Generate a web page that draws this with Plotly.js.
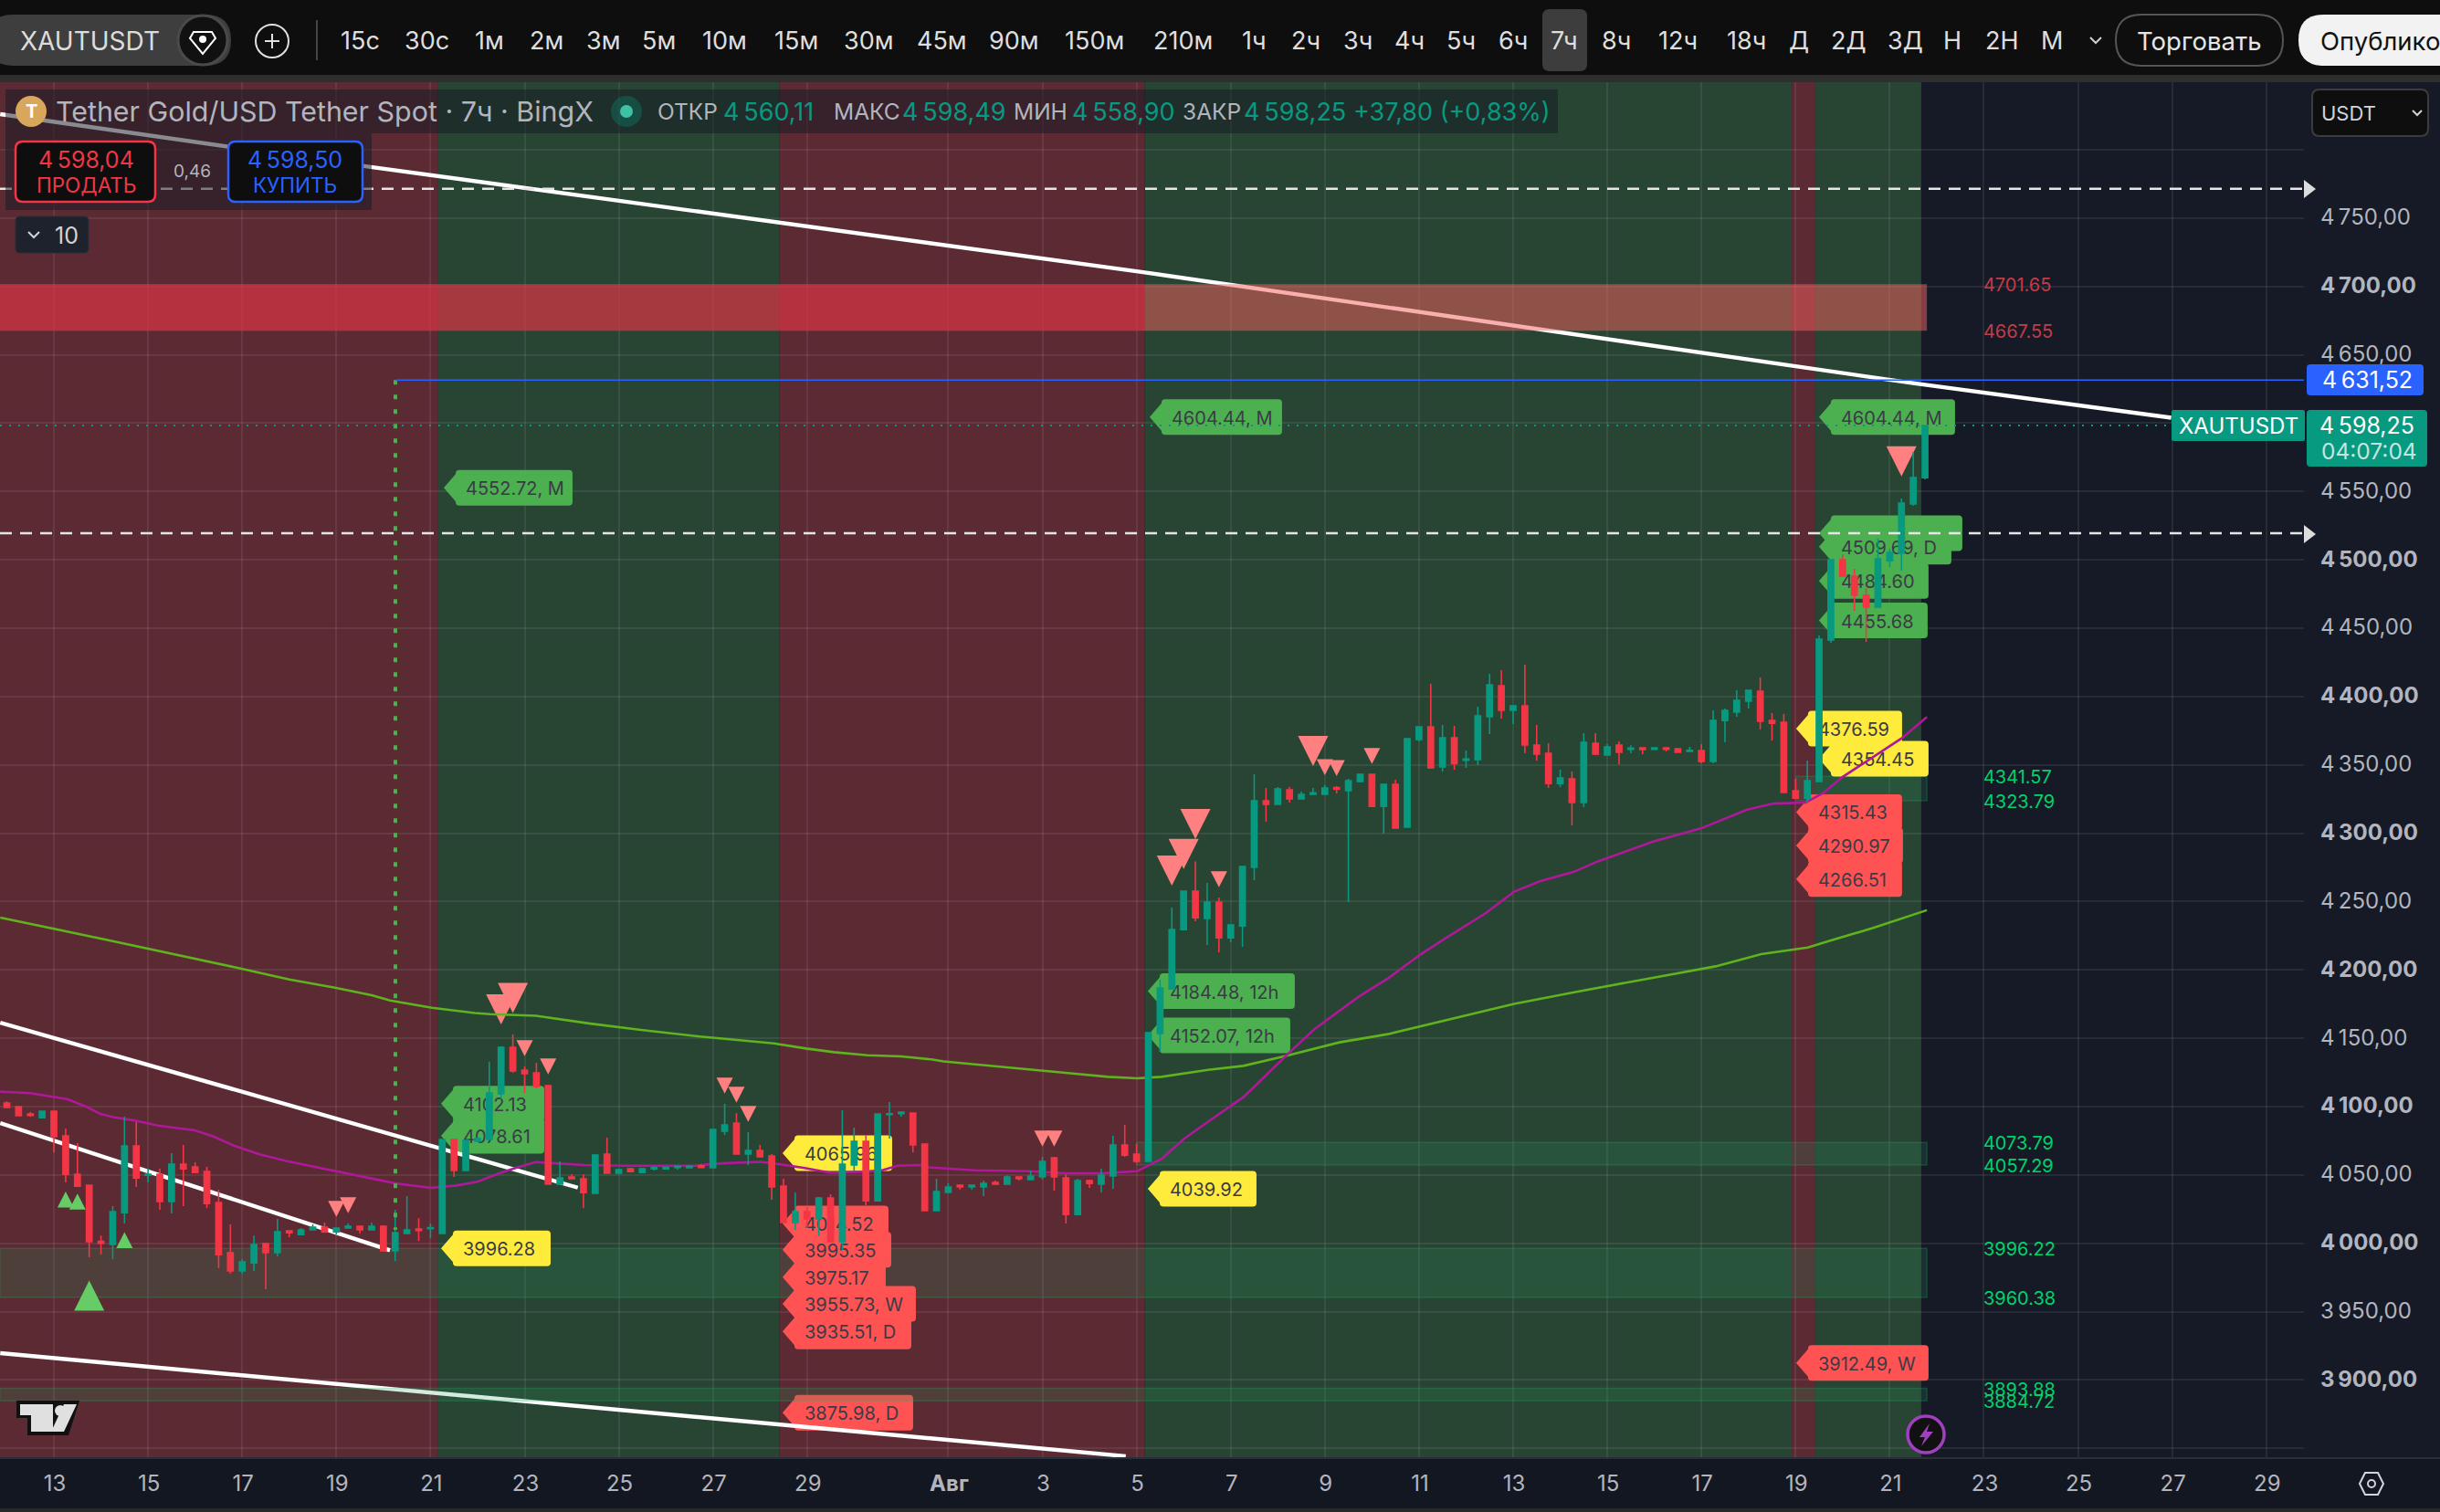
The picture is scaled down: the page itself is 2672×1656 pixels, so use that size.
<!DOCTYPE html>
<html><head><meta charset="utf-8">
<script src="https://cdn.plot.ly/plotly-3.0.1.min.js"></script>
<style>html,body{margin:0;padding:0;background:#0e0e0e;overflow:hidden}#c{width:2672px;height:1656px}</style>
</head><body><div id="c"></div>
<script>
// ---------- DATA ----------
const barOpen=[
4102.6,4100.0,4094.6,4091.9,4096.6,4078.6,4050.5,4042.5,4001.5,3999.1,
4022.4,4071.2,4049.8,4050.5,4030.5,4057.9,4055.9,4052.5,4029.8,3993.1,
3979.7,3985.7,3999.7,3993.1,4009.1,4006.4,4009.8,4011.8,4008.4,4011.1,
4012.4,4009.8,4012.4,3994.4,4007.1,4010.4,4010.6,4007.1,4075.9,4053.2,
4074.6,4075.9,4109.3,4143.4,4126.7,4124.7,4115.3,4043.2,4048.5,4047.2,
4036.5,4065.2,4051.2,4054.5,4051.8,4054.5,4054.5,4055.4,4055.2,4056.7,
4055.2,4081.9,4087.9,4065.2,4067.9,4063.9,4041.8,4015.1,4023.1,4017.8,
4033.1,4001.1,4057.2,4074.6,4031.1,4094.2,4094.8,4095.3,4072.6,4023.8,
4037.2,4042.5,4041.2,4041.2,4044.5,4043.2,4048.5,4046.5,4048.5,4062.5,
4047.8,4021.1,4045.8,4043.2,4049.2,4071.9,4065.2,4059.9,4153.4,4186.1,
4229.5,4257.6,4237.6,4249.6,4223.5,4232.2,4275.0,4323.7,4321.1,4331.8,
4325.1,4328.4,4328.4,4333.5,4331.1,4337.8,4343.1,4319.7,4335.8,4304.4,
4368.5,4377.9,4348.5,4369.8,4353.4,4353.8,4385.2,4407.9,4389.9,4393.2,
4364.5,4358.5,4336.4,4339.8,4322.4,4365.8,4357.2,4364.5,4361.4,4362.5,
4361.4,4362.5,4361.8,4359.8,4360.5,4352.5,4382.5,4388.6,4396.6,4403.9,
4382.5,4381.2,4331.1,4325.7,4337.8,4441.3,4500.1,4488.1,4474.1,4465.4,
4499.4,4504.8,4540.9,4560.11];
const barClose=[
4099.3,4093.3,4093.5,4096.6,4077.9,4050.5,4041.8,4001.1,4000.0,4023.1,
4071.2,4047.8,4050.5,4030.5,4057.9,4054.5,4051.8,4029.1,3991.7,3979.7,
3986.4,3999.1,3993.1,4008.4,4007.7,4009.8,4011.8,4008.4,4011.1,4012.4,
4009.8,4012.4,3994.4,4007.7,4009.8,4009.3,4011.5,4075.9,4053.2,4075.2,
4076.8,4110.0,4143.4,4126.0,4124.0,4114.6,4043.2,4047.8,4047.2,4037.1,
4064.5,4051.2,4053.9,4052.5,4054.5,4055.4,4055.6,4056.3,4056.3,4055.4,
4083.2,4086.6,4065.2,4067.9,4063.2,4041.2,4015.1,4023.1,4017.8,4033.1,
4001.1,4057.9,4074.6,4031.1,4094.6,4094.8,4095.9,4071.9,4023.8,4037.8,
4041.2,4041.2,4042.5,4043.8,4043.2,4048.5,4047.2,4049.2,4059.9,4048.5,
4021.1,4045.8,4043.8,4049.9,4071.9,4064.5,4059.9,4154.1,4186.8,4229.6,
4257.6,4238.2,4249.6,4223.5,4232.9,4275.6,4323.7,4321.1,4332.4,4325.1,
4328.4,4329.5,4333.1,4332.4,4338.4,4343.1,4319.7,4335.8,4303.7,4369.2,
4377.9,4347.8,4369.8,4351.1,4354.3,4385.9,4408.6,4389.9,4393.2,4364.5,
4357.8,4336.4,4340.4,4322.4,4366.5,4357.8,4363.2,4359.2,4362.3,4361.2,
4362.5,4361.4,4359.2,4360.7,4352.5,4382.5,4389.9,4397.2,4404.6,4381.9,
4380.5,4329.8,4325.7,4338.4,4442.0,4500.1,4488.1,4474.1,4465.4,4500.8,
4505.5,4541.5,4560.2,4598.25];
const barHigh=[
4103.9,4100.0,4095.9,4096.6,4096.6,4083.9,4073.2,4042.5,4005.7,4027.1,
4092.6,4088.6,4054.5,4054.5,4065.9,4071.9,4059.2,4055.9,4039.2,4013.8,
3988.4,4005.7,4000.4,4017.8,4009.1,4011.1,4013.8,4015.1,4011.1,4014.4,
4012.4,4015.1,4013.1,4024.5,4034.5,4018.4,4014.4,4075.9,4075.9,4075.2,
4076.8,4132.7,4144.0,4152.7,4129.3,4132.0,4116.0,4059.9,4050.5,4050.5,
4065.2,4077.2,4054.5,4055.2,4054.5,4056.5,4055.6,4056.3,4056.3,4057.9,
4083.2,4102.0,4095.3,4081.2,4071.9,4065.2,4047.2,4037.1,4026.5,4033.8,
4035.8,4097.3,4084.6,4079.2,4094.6,4103.3,4095.9,4095.3,4072.6,4047.2,
4043.8,4042.5,4042.5,4045.8,4045.8,4049.8,4048.5,4053.2,4063.2,4063.2,
4050.5,4047.2,4046.5,4054.5,4078.6,4086.6,4072.6,4154.1,4192.8,4245.6,
4257.6,4279.4,4263.6,4252.9,4232.9,4275.6,4343.1,4333.1,4333.8,4333.8,
4330.4,4333.1,4335.1,4334.4,4339.8,4343.1,4343.1,4335.8,4339.1,4369.2,
4377.9,4409.3,4379.2,4378.5,4360.5,4392.6,4416.6,4419.3,4393.2,4423.3,
4379.2,4365.8,4346.5,4345.1,4373.2,4373.2,4365.2,4367.2,4364.3,4362.5,
4362.5,4362.5,4362.5,4363.2,4365.2,4389.9,4391.2,4404.6,4404.6,4413.9,
4387.9,4387.2,4339.8,4353.1,4444.7,4500.1,4504.1,4493.4,4479.4,4515.5,
4508.1,4544.9,4578.9,4598.49];
const barLow=[
4099.3,4093.3,4092.4,4091.9,4066.5,4044.5,4041.8,3989.7,3991.7,3988.4,
4014.4,4041.2,4044.5,4024.5,4021.8,4027.1,4051.2,4025.8,3981.7,3977.7,
3977.7,3979.7,3966.3,3990.4,4004.4,4006.4,4009.8,4007.7,4006.4,4011.1,
4007.1,4009.8,3993.7,3987.0,4007.1,4001.7,4003.7,4007.1,4048.5,4053.2,
4074.6,4075.9,4105.3,4124.7,4110.0,4113.3,4043.2,4043.2,4047.2,4025.8,
4036.5,4051.2,4051.2,4051.8,4051.2,4053.2,4054.5,4053.9,4055.2,4055.4,
4055.2,4079.2,4065.2,4057.2,4062.5,4031.8,4015.1,4009.8,4011.1,4005.1,
4001.1,3995.1,4052.5,4027.8,4031.1,4076.6,4092.6,4066.5,4023.8,4023.8,
4037.2,4039.2,4039.2,4034.5,4043.2,4043.2,4045.8,4046.5,4046.5,4038.5,
4014.4,4021.1,4040.5,4037.2,4039.8,4063.2,4058.5,4059.9,4140.0,4186.1,
4229.5,4235.6,4218.2,4212.8,4220.2,4216.9,4265.6,4308.4,4321.1,4322.4,
4325.1,4328.4,4328.4,4329.1,4249.6,4337.1,4319.7,4299.7,4303.7,4304.4,
4367.2,4347.1,4345.1,4346.5,4347.8,4349.8,4372.5,4383.9,4379.9,4358.5,
4353.1,4333.1,4333.8,4305.7,4319.1,4357.2,4357.2,4350.5,4358.5,4357.8,
4361.4,4359.8,4359.2,4359.8,4351.1,4351.1,4366.5,4385.2,4391.2,4375.9,
4367.8,4329.8,4325.1,4321.7,4337.8,4439.3,4488.1,4462.7,4440.0,4465.4,
4494.8,4492.1,4539.5,4558.90];

const magentaDays=[11.86,12.50,13.28,13.67,13.99,14.28,14.70,15.21,15.99,16.38,16.84,17.35,17.93,18.97,19.75,20.26,21.01,21.55,22.00,22.46,22.85,23.24,23.75,24.27,25.18,26.60,27.18,28.01,28.40,28.92,29.50,30.22,30.61,30.92,31.39,31.58,32.55,33.71,34.49,35.27,36.01,36.53,37.01,37.52,38.27,38.76,39.27,39.79,40.72,41.34,42.04,42.54,43.22,43.42,44.02,44.58,45.28,45.80,46.97,47.99,48.97,49.53,50.21,50.59,50.98,52.26,52.79];
const magentaVals=[4110.9,4109.8,4105.5,4100.2,4094.6,4092.2,4089.9,4086.1,4082.6,4078.3,4071.2,4065.2,4060.3,4053.0,4047.8,4043.8,4040.5,4042.3,4045.0,4051.2,4055.6,4059.4,4058.3,4057.2,4056.7,4056.7,4058.5,4059.6,4057.9,4055.2,4051.6,4052.3,4053.6,4056.7,4057.2,4055.6,4053.4,4052.7,4051.2,4051.2,4052.7,4061.7,4076.4,4089.0,4106.9,4123.6,4140.3,4157.0,4180.4,4193.7,4211.5,4222.6,4237.1,4241.6,4257.2,4265.0,4271.6,4279.4,4293.9,4303.5,4317.3,4321.7,4322.4,4329.5,4340.7,4369.6,4385.0];
const limeDays=[11.86,14.18,16.90,18.00,18.97,19.75,20.14,21.03,21.94,22.27,23.24,24.40,25.43,26.73,28.29,28.98,29.57,30.28,31.00,31.64,31.90,33.19,34.49,35.39,36.01,36.53,37.52,38.27,39.21,40.31,41.34,44.02,45.30,46.99,48.30,49.27,50.26,50.75,51.62,52.79];
const limeVals=[4238.3,4221.6,4201.5,4193.0,4187.0,4181.5,4177.7,4172.3,4168.5,4167.6,4166.5,4160.7,4156.3,4151.2,4146.3,4142.5,4139.8,4137.6,4136.7,4134.5,4133.1,4128.7,4124.7,4121.8,4120.7,4121.8,4126.9,4129.8,4137.4,4147.0,4153.0,4175.2,4183.7,4194.4,4202.6,4211.5,4216.4,4221.5,4230.4,4243.7];

const trend1Days=[11.86,19.62,36.14,52.53,57.98], trend1Vals=[4826.1,4788.0,4710.5,4629.1,4604.0];
const trend2Days=[11.86,21.17,24.13], trend2Vals=[4161.4,4070.1,4040.7];
const trend3Days=[11.86,20.14], trend3Vals=[4087.9,3994.8];
const trend4Days=[11.86,25.43,35.77], trend4Vals=[3919.6,3876.4,3844.2];

const regimeStart=[11.85,21.15,28.41,36.17,49.92,50.42];
const regimeEnd  =[21.15,28.41,36.17,49.92,50.42,52.67];
const regimeKind =['bear','bull','bear','bull','bear','bull'];

const zoneTop =[4341.57,4073.79,3996.22,3893.88];
const zoneBot =[4323.79,4057.29,3960.38,3884.72];
const zoneFrom=[50.01,36.00,11.85,11.85];
const zoneEnd=52.79;
const supplyTop=4701.65, supplyBot=4667.55, supplyCoreEnd=36.17;

const tagText =['4552.72, M','4604.44, M','4604.44, M','4102.13','4078.61','4184.48, 12h','4152.07, 12h','','4509.69, D','4484.60','4455.68',
 '3996.28','4065.96','4039.92','4376.59','4354.45',
 '4014.52','3995.35','3975.17','3955.73, W','3935.51, D','3875.98, D','4315.43','4290.97','4266.51','3912.49, W'];
const tagValue=[4552.72,4604.44,4604.44,4102.13,4078.61,4184.48,4152.07,4519.5,4509.69,4484.60,4455.68,
 3996.28,4065.96,4039.92,4376.59,4354.45,
 4014.52,3995.35,3975.17,3955.73,3935.51,3875.98,4315.43,4290.97,4266.51,3912.49];
const tagKind =['g','g','g','g','g','g','g','g','g','g','g','y','y','y','y','y','r','r','r','r','r','r','r','r','r','r'];

const signalBar =[8,6,7,11,29,30,43,44,45,47,62,63,64,89,90,100,101,102,104,112,113,114,117,162];
const signalVal =[3972.8,4037.8,4036.3,4008.2,4019.3,4022.0,4160.1,4168.5,4136.9,4123.6,4109.5,4102.8,4088.8,4070.8,4070.8,4261.6,4273.9,4295.7,4260.5,4349.1,4342.5,4341.8,4350.7,4561.1];
const signalDir =['up','up','up','up','down','down','down','down','down','down','down','down','down','down','down','down','down','down','down','down','down','down','down','down'];
const signalBig =[1,0,0,0,0,0,1,1,0,0,0,0,0,0,0,1,1,1,0,1,0,0,0,1];

const levelGreenVals=[4341.57,4323.79,4073.79,4057.29,3996.22,3960.38,3893.88,3884.72];
const levelRedVals=[4701.65,4667.55];

const xTickDays=[13,15,17,19,21,23,25,27,29,32,34,36,38,40,42,44,46,48,50,52,54,56,58,60];
const xTickText=['13','15','17','19','21','23','25','27','29','<b>Авг</b>','3','5','7','9','11','13','15','17','19','21','23','25','27','29'];
const yTickVals=[3850,3900,3950,4000,4050,4100,4150,4200,4250,4300,4350,4400,4450,4500,4550,4600,4650,4700,4750,4800];
const T='\u2009';
const yTickText=['','<b>3'+T+'900,00</b>','3'+T+'950,00','<b>4'+T+'000,00</b>','4'+T+'050,00','<b>4'+T+'100,00</b>','4'+T+'150,00','<b>4'+T+'200,00</b>','4'+T+'250,00','<b>4'+T+'300,00</b>','4'+T+'350,00','<b>4'+T+'400,00</b>','4'+T+'450,00','<b>4'+T+'500,00</b>','4'+T+'550,00','','4'+T+'650,00','<b>4'+T+'700,00</b>','4'+T+'750,00',''];

const tfLabels=['15с','30с','1м','2м','3м','5м','10м','15м','30м','45м','90м','150м','210м','1ч','2ч','3ч','4ч','5ч','6ч','7ч','8ч','12ч','18ч','Д','2Д','3Д','Н','2Н','М'];

// ---------- GEOMETRY ----------
const W=2672,H=1656,L=0,R=2523,TOP=90,BOT=1597;
const FONT='Inter, Roboto, sans-serif';
const xRange=[11.855,60.80],yRange=[3842.8,4849.5];
const pxDay=p=>11.855+p/51.55;
const X=p=>(p-L)/(R-L), Y=p=>(BOT-p)/(BOT-TOP);
const barDay=n=>12+(n-1)*0.25;
const barDays=barOpen.map((_,i)=>barDay(i+1));
const textNudge=2; // value units: text baseline correction

const tfCenters=[394,467,536,598,660,721,793,872,951,1031,1110,1198,1295,1373,1430,1487,1543,1600,1657,1713,1770,1837,1912,1970,2024,2086,2138,2192,2247];
const tagTipPx=[486,1259,1992,483,483,1257,1257,1992,1992,1992,1992, 483,857,1257,1967,1992, 857,857,857,857,857,857,1967,1967,1967,1967];
const tagRightPx=[627,1404,2141,596,596,1418,1413,2149,2137,2112,2111, 603,977,1376,2083,2112, 973,976,970,1003,998,1000,2083,2084,2083,2112];
const tagFill={g:'#4CAF50',y:'#FFEB3B',r:'#FF5252'};

const shapes=[],ann=[];
// regime bands
regimeStart.forEach((s,i)=>shapes.push({type:'rect',layer:'below',xref:'x',yref:'paper',x0:s,x1:regimeEnd[i],y0:0,y1:1,line:{width:0},fillcolor:regimeKind[i]==='bear'?'#5b2a33':'#284433'}));
// zones
zoneTop.forEach((t,i)=>{shapes.push({type:'rect',layer:i===3?'above':'between',xref:'x',yref:'y',x0:zoneFrom[i],x1:zoneEnd,y0:zoneBot[i],y1:t,
 fillcolor:'rgba(36,150,96,0.2)',line:{width:1.5,color:'rgba(30,180,100,0.25)'}})});
shapes.push({type:'rect',layer:'above',xref:'x',yref:'y',x0:11.85,x1:zoneEnd,y0:supplyBot,y1:supplyTop,fillcolor:'rgba(245,95,95,0.5)',line:{width:0}});
shapes.push({type:'rect',layer:'above',xref:'x',yref:'y',x0:11.85,x1:supplyCoreEnd,y0:supplyBot,y1:supplyTop,fillcolor:'rgba(200,20,50,0.4)',line:{width:0}});
// tags
function tagPath(w,h){const a=h/2,r=4,b=13;return `M0 0 L${b} 15 L${b} ${a-r} Q${b} ${a} ${b+r} ${a} L${w-r} ${a} Q${w} ${a} ${w} ${a-r} L${w} ${-a+r} Q${w} ${-a} ${w-r} ${-a} L${b+r} ${-a} Q${b} ${-a} ${b} ${-a+r} L${b} -15 Z`;}
tagValue.forEach((v,i)=>shapes.push({type:'path',layer:'between',xref:'x',yref:'y',xsizemode:'pixel',ysizemode:'pixel',xanchor:pxDay(tagTipPx[i]),yanchor:v,
 path:tagPath(tagRightPx[i]-tagTipPx[i],39),fillcolor:tagFill[tagKind[i]],line:{width:0}}));
// signal triangles
signalBar.forEach((b,i)=>{const s=signalBig[i]?33:18,h=signalBig[i]?33:17.5,d=signalDir[i]==='down';
 shapes.push({type:'path',layer:'between',xref:'x',yref:'y',xsizemode:'pixel',ysizemode:'pixel',xanchor:barDay(b),yanchor:signalVal[i],
 path:d?`M${-s/2} ${h} L${s/2} ${h} L0 0 Z`:`M${-s/2} ${-h} L${s/2} ${-h} L0 0 Z`,fillcolor:d?'#FF8080':'#66CC66',line:{width:0}})});
// position lines
shapes.push({type:'line',layer:'above',xref:'x',yref:'y',x0:pxDay(433),x1:pxDay(433),y0:4631.52,y1:4009.8,line:{color:'#4CAF50',width:4,dash:'5px,11px'}});
shapes.push({type:'line',layer:'above',xref:'x',yref:'y',x0:pxDay(433),x1:xRange[1],y0:4631.52,y1:4631.52,line:{color:'#2962FF',width:1.6}});
shapes.push({type:'line',layer:'above',xref:'paper',yref:'y',x0:0,x1:X(2378),y0:4598.25,y1:4598.25,line:{color:'#089981',width:2,dash:'2px,8px'}});
[4771.5,4519.5].forEach(v=>shapes.push({type:'line',layer:'above',xref:'paper',yref:'y',x0:0,x1:1,y0:v,y1:v,line:{color:'#e6e6e6',width:2.5,dash:'13px,9px'}}));

// chrome helpers
function rr(x0,y0,x1,y1,r){return `M${X(x0+r)} ${Y(y0)} L${X(x1-r)} ${Y(y0)} Q${X(x1)} ${Y(y0)} ${X(x1)} ${Y(y0+r)} L${X(x1)} ${Y(y1-r)} Q${X(x1)} ${Y(y1)} ${X(x1-r)} ${Y(y1)} L${X(x0+r)} ${Y(y1)} Q${X(x0)} ${Y(y1)} ${X(x0)} ${Y(y1-r)} L${X(x0)} ${Y(y0+r)} Q${X(x0)} ${Y(y0)} ${X(x0+r)} ${Y(y0)} Z`;}
function box(x0,y0,x1,y1,r,fill,stroke,sw,layer){shapes.push({type:'path',layer:layer||'above',xref:'paper',yref:'paper',path:rr(x0,y0,x1,y1,r),fillcolor:fill,line:{color:stroke||fill,width:stroke?(sw||2):0}});}
function poly(pts,fill,stroke,sw,closed){shapes.push({type:'path',layer:'above',xref:'paper',yref:'paper',path:'M'+pts.map(p=>X(p[0])+' '+Y(p[1])).join(' L')+(closed===false?'':' Z'),fillcolor:closed===false?'rgba(0,0,0,0)':fill,line:{color:stroke||fill,width:stroke?(sw||2):0}});}
function circ(cx,cy,r,fill,stroke,sw){shapes.push({type:'circle',layer:'above',xref:'paper',yref:'paper',x0:X(cx-r),x1:X(cx+r),y0:Y(cy+r),y1:Y(cy-r),fillcolor:fill,line:{color:stroke||fill,width:stroke?(sw||2):0}});}
function txt(t,x,y,size,color,anchor,extra){ann.push(Object.assign({text:t,x:X(x),y:Y(y),xref:'paper',yref:'paper',xanchor:anchor||'center',yanchor:'middle',showarrow:false,font:{family:FONT,size:size,color:color},borderpad:0,borderwidth:0},extra||{}));}

// outer strips
shapes.push({type:'rect',layer:'below',xref:'paper',yref:'paper',x0:X(0),x1:X(W),y0:Y(82),y1:Y(90),fillcolor:'#2e2e2e',line:{width:0}});
shapes.push({type:'rect',layer:'below',xref:'paper',yref:'paper',x0:X(R),x1:X(W),y0:Y(90),y1:Y(1597),fillcolor:'#161a26',line:{width:0}});
shapes.push({type:'rect',layer:'below',xref:'paper',yref:'paper',x0:X(0),x1:X(W),y0:Y(1597),y1:Y(1652),fillcolor:'#131722',line:{width:0}});
shapes.push({type:'rect',layer:'below',xref:'paper',yref:'paper',x0:X(0),x1:X(W),y0:Y(1652),y1:Y(H),fillcolor:'#2a2a2a',line:{width:0}});
shapes.push({type:'line',layer:'above',xref:'paper',yref:'paper',x0:X(0),x1:X(W),y0:Y(1597),y1:Y(1597),line:{color:'#2a2e39',width:2}});

// toolbar
box(-14,16,253,72,28,'#3e3e3e');
txt('XAUTUSDT',22,45,28,'#dcdcdc','left');
circ(222,44,27,'#111111','#4a4a4a',3);
poly([[212,35],[232,35],[236,42],[222,59],[208,42]],'rgba(0,0,0,0)','#ffffff',2);
circ(222,43,4,'#ffffff');
circ(298,45,18,'rgba(0,0,0,0)','#e0e0e0',2);
poly([[290,45],[306,45]],'','#e0e0e0',2,false);poly([[298,37],[298,53]],'','#e0e0e0',2,false);
poly([[347,22],[347,66]],'','#444444',2,false);
box(1689,10,1738,78,8,'#3d3d3d');
tfLabels.forEach((t,i)=>txt(t,tfCenters[i],45,27,'#dedede'));
poly([[2289,41],[2295,47],[2301,41]],'','#cfcfcf',2,false);
box(2317,16,2500,72,28,'rgba(0,0,0,0)','#555555',2);
txt('Торговать',2408,45,27.5,'#e6e6e6');
box(2517,16,2720,72,28,'#f2f2f2');
txt('Опубликовать',2541,45,27.5,'#111111','left');

// legend panel
shapes.push({type:'rect',layer:'above',xref:'paper',yref:'paper',x0:X(6),x1:X(1706),y0:Y(98),y1:Y(146),fillcolor:'rgba(19,23,34,0.5)',line:{width:0}});
shapes.push({type:'rect',layer:'above',xref:'paper',yref:'paper',x0:X(6),x1:X(407),y0:Y(146),y1:Y(230),fillcolor:'rgba(19,23,34,0.5)',line:{width:0}});
circ(34,122,17,'#d9a75b');
txt('<b>T</b>',34,122,20,'#ffffff');
txt('Tether Gold/USD Tether Spot · 7ч · BingX',61,122,30.4,'#b2b5be','left');
circ(686,122,17,'rgba(8,153,129,0.3)');circ(686,122,7,'#3fc1a6');
const G='#089981',LG='#b2b5be';
[['ОТКР',720,LG,24.5],['4'+T+'560,11',792,G,27],['МАКС',913,LG,24.5],['4'+T+'598,49',988,G,27],['МИН',1110,LG,24.5],['4'+T+'558,90',1174,G,27],['ЗАКР',1295,LG,24.5],['4'+T+'598,25',1362,G,27],['+37,80 (+0,83%)',1482,G,27]].forEach(a=>txt(a[0],a[1],122,a[3],a[2],'left'));
// trade buttons
box(17,155,170,221,8,'#0e0e0e','#F23645',2.5);
txt('4'+T+'598,04',94,175,25,'#F23645');txt('ПРОДАТЬ',94,202,22.5,'#F23645');
box(250,155,397,221,8,'#0e0e0e','#2962FF',2.5);
txt('4'+T+'598,50',323,175,25,'#2962FF');txt('КУПИТЬ',323,202,22.5,'#2962FF');
txt('0,46',210,188,19,'#b2b5be');
box(17,237,97,277,5,'#1e222d','#2a2e39',1);
poly([[31,254],[37,260],[43,254]],'','#d1d4dc',2,false);
txt('10',73,258,25,'#d1d4dc');

// usdt
box(2532,98,2659,149,8,'#0e0e0e','#3c3c3c',2);
txt('USDT',2542,124,22,'#d1d4dc','left');
poly([[2642,121],[2647,126],[2652,121]],'','#d1d4dc',2,false);

// price tags
poly([[2523,197],[2536,207],[2523,217]],'#dcdcdc');
poly([[2523,575],[2536,585],[2523,595]],'#dcdcdc');
box(2526,399,2654,433,4,'#2962FF');
txt('4'+T+'631,52',2592,416,25,'#ffffff');
box(2526,449,2658,511,4,'#089981');
txt('4'+T+'598,25',2592,466,25,'#ffffff');
txt('04:07:04',2594,494,24.5,'#c4e6de');
box(2378,449,2524,483,2,'#089981');
txt('XAUTUSDT',2451,466,24,'#ffffff');

// logo
poly([[18,1534],[87,1534],[75,1572],[30,1572],[30,1553],[18,1553]],'#111111');
poly([[22,1538],[58,1538],[58,1568],[34,1568],[34,1550],[22,1550]],'#e0e0e0');
circ(66,1545,6,'#e0e0e0');
poly([[70,1538],[84,1538],[70,1568],[56,1568]],'#e0e0e0');

// lightning
circ(2109,1571,20,'#111111','#a040c0',3.5);
poly([[2113,1559],[2102,1574],[2108,1574],[2104,1584],[2117,1568],[2110,1568]],'#a040c0');
// settings
poly([[2584,1625],[2590,1613],[2604,1613],[2610,1625],[2604,1637],[2590,1637]],'rgba(0,0,0,0)','#d1d4dc',2);
circ(2597,1625,4,'rgba(0,0,0,0)','#d1d4dc',2);

// ---------- TRACES ----------
const lblX=pxDay(2172);
const traces=[
 {type:'scatter',mode:'text',x:tagValue.map((_,i)=>pxDay(tagTipPx[i]+24)),y:tagValue.map(v=>v-textNudge),text:tagText,textposition:'middle right',
  textfont:{family:FONT,size:20,color:'#3b3b47'},hoverinfo:'skip',showlegend:false,name:'labels'},
 {type:'scatter',mode:'text',x:levelGreenVals.map(()=>lblX),y:levelGreenVals.map(v=>v-textNudge),text:levelGreenVals.map(v=>v.toFixed(2)),textposition:'middle right',
  textfont:{family:FONT,size:20,color:'#00d26a'},hoverinfo:'skip',showlegend:false,name:'levels'},
 {type:'scatter',mode:'text',x:levelRedVals.map(()=>lblX),y:levelRedVals.map(v=>v-textNudge),text:levelRedVals.map(v=>v.toFixed(2)),textposition:'middle right',
  textfont:{family:FONT,size:20,color:'#c23c48'},hoverinfo:'skip',showlegend:false,name:'levelsRed'},
 ...[[trend1Days,trend1Vals],[trend2Days,trend2Vals],[trend3Days,trend3Vals],[trend4Days,trend4Vals]].map((t,i)=>({type:'scatter',mode:'lines',x:t[0],y:t[1],line:{color:'#ffffff',width:4.4},hoverinfo:'skip',showlegend:false,name:'trend'+(i+1)})),
 {type:'scatter',mode:'lines',x:limeDays,y:limeVals,line:{color:'#5fb31e',width:2.6},hoverinfo:'skip',showlegend:false,name:'MA200'},
 {type:'scatter',mode:'lines',x:magentaDays,y:magentaVals,line:{color:'#b0189a',width:2.6},hoverinfo:'skip',showlegend:false,name:'MA50'},
 {type:'candlestick',xaxis:'x2',yaxis:'y2',x:barDays,open:barOpen,high:barHigh,low:barLow,close:barClose,whiskerwidth:0,
  increasing:{line:{color:'#089981',width:1.6},fillcolor:'#089981'},decreasing:{line:{color:'#F23645',width:1.6},fillcolor:'#F23645'},hoverinfo:'skip',showlegend:false,name:'XAUTUSDT'}
];
const grid='rgba(255,255,255,0.075)';
const layout={width:W,height:H,paper_bgcolor:'#0e0e0e',plot_bgcolor:'#161a26',margin:{l:L,r:W-R,t:TOP,b:H-BOT,pad:0},showlegend:false,boxgap:0.32,
 font:{family:FONT},
 xaxis:{type:'linear',range:xRange,tickmode:'array',tickvals:xTickDays,ticktext:xTickText,showgrid:true,gridcolor:grid,gridwidth:2,zeroline:false,showline:false,ticks:'',
   tickfont:{family:FONT,size:24,color:'#b2b5be'},ticklabelstandoff:11,ticklabelshift:1,rangeslider:{visible:false},fixedrange:true},
 yaxis:{type:'linear',side:'right',range:yRange,tickmode:'array',tickvals:yTickVals,ticktext:yTickText,showgrid:true,gridcolor:grid,gridwidth:2,zeroline:false,showline:false,ticks:'',
   tickfont:{family:FONT,size:24,color:'#b2b5be'},ticklabelstandoff:17,ticklabelshift:-1,fixedrange:true},
 xaxis2:{type:'linear',overlaying:'x',range:xRange,visible:false,rangeslider:{visible:false},fixedrange:true,anchor:'y2'},
 yaxis2:{type:'linear',overlaying:'y',side:'right',range:yRange,visible:false,fixedrange:true,anchor:'x2'},
 shapes:shapes,annotations:ann};
Plotly.newPlot('c',traces,layout,{displayModeBar:false,staticPlot:true});
</script></body></html>
